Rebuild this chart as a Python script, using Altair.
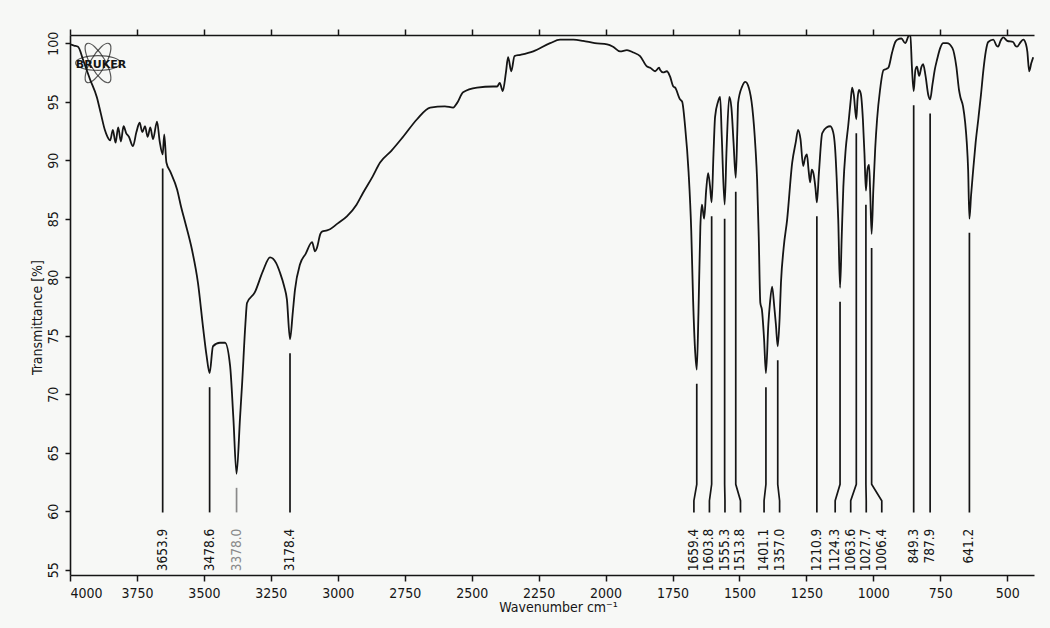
import altair as alt
import numpy as np
import pandas as pd

# IR spectrum trace: wavenumber (cm^-1) and transmittance (%)
wavenumber = [
    4000, 3985, 3970, 3950, 3925, 3900, 3885, 3870, 3860, 3850, 3840, 3830, 3820,
    3810, 3800, 3790, 3780, 3765, 3752, 3740, 3730, 3720, 3710, 3700, 3690, 3675,
    3665, 3653.9, 3648, 3640, 3625, 3600, 3585, 3570, 3544, 3522, 3503, 3490,
    3478.6, 3466, 3440, 3421, 3402, 3390, 3378.0, 3365, 3357, 3345, 3339, 3310,
    3280, 3253, 3230, 3216, 3200, 3190, 3178.4, 3168, 3160, 3141, 3120, 3096,
    3085, 3078, 3065, 3059, 3040, 3029, 3000, 2966, 2930, 2906, 2870, 2842, 2800,
    2756, 2704, 2655, 2600, 2569, 2554, 2532, 2480, 2420, 2405, 2395, 2384, 2372,
    2364, 2352, 2340, 2319, 2270, 2207, 2170, 2120, 2084, 2040, 1994, 1972, 1946,
    1920, 1896, 1871, 1845, 1833, 1815, 1800, 1796, 1785, 1771, 1760, 1747, 1740,
    1722, 1714, 1703, 1690, 1680, 1673, 1665, 1659.4, 1653, 1646, 1640, 1632,
    1624, 1617, 1610, 1603.8, 1597, 1591, 1580, 1572, 1566, 1555.3, 1548, 1538,
    1530, 1522, 1513.8, 1508, 1505, 1490, 1478, 1465, 1452, 1440, 1434, 1428,
    1422, 1416, 1408, 1401.1, 1392, 1386, 1378, 1370, 1364, 1357.0, 1350, 1345,
    1335, 1322, 1303, 1290, 1281, 1272, 1262, 1255, 1248, 1242, 1236, 1230, 1224,
    1216, 1210.9, 1203, 1191, 1175, 1161, 1150, 1143, 1137, 1131, 1124.3, 1118,
    1112, 1103, 1094, 1085, 1079, 1073, 1063.6, 1059, 1054, 1047, 1039, 1033,
    1027.7, 1022, 1016, 1012, 1006.4, 1000, 993, 986, 975, 962, 952, 944, 930,
    918, 911, 895, 881, 869, 862, 856, 849.3, 843, 837, 829, 820, 814, 805, 795,
    787.9, 779, 770, 762, 750, 739, 725, 705, 690, 680, 675, 665, 657, 651, 646,
    641.2, 635, 627, 618, 608, 598, 589, 580, 571, 552, 540, 534, 525, 515, 500,
    478, 470, 463, 450, 440, 430, 425, 418, 410, 403,
]
transmittance = [
    99.9, 99.8, 99.7, 98.5, 96.9, 95.4, 94.0, 92.6, 92.0, 91.7, 92.6, 91.5, 92.8,
    91.6, 92.9, 92.3, 92.0, 91.2, 92.4, 93.2, 92.4, 92.9, 92.0, 92.8, 91.8, 93.3,
    91.6, 90.5, 92.2, 89.8, 89.0, 87.5, 86.0, 84.7, 82.3, 79.5, 75.7, 73.3,
    71.8, 74.1, 74.4, 74.4, 72.4, 68.0, 63.2, 68.0, 71.0, 76.0, 77.8, 78.7,
    80.5, 81.7, 81.2, 80.4, 79.2, 78.1, 74.7, 77.0, 78.9, 81.1, 82.0, 83.0,
    82.2, 82.5, 83.7, 83.9, 84.0, 84.1, 84.6, 85.2, 86.2, 87.2, 88.6, 89.8, 90.8,
    92.0, 93.5, 94.5, 94.6, 94.5, 94.9, 95.8, 96.2, 96.3, 96.3, 96.6, 95.9, 97.5,
    98.8, 97.6, 98.9, 99.0, 99.3, 100.0, 100.3, 100.3, 100.2, 100.0, 99.9, 99.7, 99.3,
    99.4, 99.2, 98.9, 98.0, 97.9, 97.6, 97.9, 97.7, 97.5, 97.6, 97.2, 96.3, 96.2,
    95.2, 95.0, 92.9, 89.0, 84.0, 78.0, 73.5, 72.1, 77.0, 84.3, 86.2, 85.0,
    87.5, 88.9, 87.8, 86.4, 90.5, 93.7, 95.0, 95.4, 92.0, 86.2, 91.0, 95.4,
    94.5, 91.5, 88.5, 92.5, 94.9, 96.3, 96.7, 96.2, 94.5, 91.0, 88.3, 83.5,
    77.8, 77.2, 74.7, 71.8, 76.0, 77.8, 79.2, 77.5, 76.0, 74.1, 76.5, 79.5,
    82.5, 84.9, 89.8, 91.5, 92.6, 91.8, 89.5, 90.2, 90.5, 89.2, 88.1, 89.2, 88.9,
    87.6, 86.4, 89.0, 92.3, 92.8, 92.9, 92.4, 91.1, 88.5, 84.9, 79.1, 83.5,
    87.7, 91.0, 92.9, 95.0, 96.2, 95.6, 93.5, 95.2, 96.0, 95.7, 93.5, 90.5,
    87.4, 89.2, 89.6, 87.5, 83.7, 87.5, 91.0, 93.5, 96.0, 97.7, 97.8, 97.9, 99.2,
    100.1, 100.3, 100.4, 100.0, 100.6, 100.8, 98.0, 95.9, 97.7, 98.0, 97.2, 98.0, 98.2, 97.2, 95.6,
    95.2, 96.5, 97.8, 98.6, 99.6, 100.0, 100.0, 99.6, 98.0, 96.0, 95.4, 94.6, 93.2, 91.5, 89.2,
    85.0, 87.0, 89.2, 91.5, 93.5, 95.6, 97.7, 99.3, 100.1, 100.3, 99.8, 99.7, 100.2, 100.5, 100.2,
    100.1, 99.8, 99.7, 100.1, 100.3, 99.9, 99.3, 97.6, 98.3, 98.8,
]

# Annotated absorption bands (cm^-1)
peak_wavenumbers = [
    3653.9, 3478.6, 3378.0, 3178.4, 1659.4, 1603.8, 1555.3, 1513.8, 1401.1,
    1357.0, 1210.9, 1124.3, 1063.6, 1027.7, 1006.4, 849.3, 787.9, 641.2,
]

x_ticks = [4000, 3750, 3500, 3250, 3000, 2750, 2500, 2250, 2000, 1750, 1500, 1250, 1000, 750, 500]
y_ticks = [55, 60, 65, 70, 75, 80, 85, 90, 95, 100]

INK = "#151515"
FONT = "DejaVu Sans Condensed, Roboto, sans-serif"
PAPER = "#f7f8f6"
W, H = 964, 540

spec_df = pd.DataFrame({"wn": wavenumber, "T": transmittance})


def spread_labels(positions, gap):
    """Place labels (ordered high -> low wavenumber) at least `gap` apart,
    centring each crowded group on the mean of its bands."""
    groups = [[p] for p in positions]
    while True:
        placed = []
        for g in groups:
            centre = sum(g) / len(g)
            start = centre + gap * (len(g) - 1) / 2
            placed.append([start - gap * i for i in range(len(g))])
        for i in range(len(groups) - 1):
            if placed[i][-1] - placed[i + 1][0] < gap:
                groups[i] = groups[i] + groups[i + 1]
                del groups[i + 1]
                break
        else:
            return [p for ps in placed for p in ps]


label_pos = spread_labels(peak_wavenumbers, 58)

# Leader lines: from just under each band down, kinking over to its label
asc_wn = np.array(wavenumber[::-1], dtype=float)
asc_t = np.array(transmittance[::-1], dtype=float)
rows = []
for wn, lp in zip(peak_wavenumbers, label_pos):
    top = float(np.interp(wn, asc_wn, asc_t)) - 1.2
    kink = min(62.3, top)
    pts = [(wn, top), (wn, kink), (lp, 60.9), (lp, 59.9)]
    for step, (px, py) in enumerate(pts):
        rows.append({"peak": f"{wn:.1f}", "step": step, "wn": px, "T": py})
leader_df = pd.DataFrame(rows)
label_df = pd.DataFrame({
    "wn": label_pos,
    "T": [58.5] * len(label_pos),
    "text": [f"{w:.1f}" for w in peak_wavenumbers],
    "band": peak_wavenumbers,
})

x_scale = alt.Scale(domain=[4000, 400], nice=False, zero=False)
y_scale = alt.Scale(domain=[54.55, 100.7], nice=False, zero=False)

bottom_axis = alt.Axis(
    values=x_ticks, format="d", title="Wavenumber cm⁻¹", grid=False,
    domainColor=INK, domainWidth=1.6, tickColor=INK, tickWidth=1.5, tickSize=6,
    labelFont=FONT, labelFontSize=14, labelColor=INK, labelPadding=5,
    titleFont=FONT, titleFontSize=14, titleFontWeight="normal", titleColor=INK,
    titleX=488, titleY=32, titleAlign="center", titleBaseline="middle",
)
top_axis = alt.Axis(
    orient="top", values=x_ticks, labels=False, title=None, grid=False,
    domainColor=INK, domainWidth=1.6, tickColor=INK, tickWidth=1.5, tickSize=6,
)
left_axis = alt.Axis(
    values=y_ticks, title="Transmittance [%]", grid=False,
    domainColor=INK, domainWidth=1.6, tickColor=INK, tickWidth=1.5, tickSize=5,
    labelFont=FONT, labelFontSize=14, labelColor=INK, labelAngle=270,
    labelAlign="center", labelBaseline="bottom", labelPadding=5,
    titleFont=FONT, titleFontSize=14, titleFontWeight="normal", titleColor=INK,
    titleAngle=270, titleX=-33, titleY=282, titleAlign="center", titleBaseline="middle",
)

spectrum = alt.Chart(spec_df).mark_line(
    color=INK, strokeWidth=1.8, interpolate="monotone", clip=True
).encode(
    x=alt.X("wn:Q", scale=x_scale, axis=bottom_axis),
    y=alt.Y("T:Q", scale=y_scale, axis=left_axis),
    order=alt.Order("wn:Q", sort="descending"),
)

frame_top = alt.Chart(spec_df).mark_line(opacity=0).encode(
    x=alt.X("wn:Q", scale=x_scale, axis=top_axis),
    y=alt.Y("T:Q", scale=y_scale, axis=None),
)

leaders = alt.Chart(leader_df).mark_line(strokeWidth=1.7).encode(
    x=alt.X("wn:Q", scale=x_scale, axis=None),
    y=alt.Y("T:Q", scale=y_scale, axis=None),
    detail="peak:N",
    order="step:Q",
    color=alt.condition(alt.datum.peak == "3378.0", alt.value("#8a8a8a"), alt.value(INK)),
)

labels = alt.Chart(label_df).mark_text(
    angle=270, align="right", baseline="middle", font=FONT, fontSize=13.5
).encode(
    x=alt.X("wn:Q", scale=x_scale, axis=None),
    y=alt.Y("T:Q", scale=y_scale, axis=None),
    text="text:N",
    color=alt.condition(alt.datum.band == 3378.0, alt.value("#8a8a8a"), alt.value(INK)),
)

# Instrument logo in the upper-left corner
ELLIPSE = "M -1 0 A 1 0.33 0 1 1 1 0 A 1 0.33 0 1 1 -1 0 Z"
logo_df = pd.DataFrame({"tilt": [0, 60, 120]})
logo_rings = alt.Chart(logo_df).mark_point(
    shape=ELLIPSE, filled=False, stroke=INK, strokeWidth=1.2, size=2000
).encode(
    x=alt.value(28), y=alt.value(28), angle=alt.Angle("tilt:Q", scale=None)
)
logo_text = alt.Chart(pd.DataFrame({"name": ["BRUKER"]})).mark_text(
    font="DejaVu Sans", fontWeight="bold", fontSize=11, color=INK
).encode(x=alt.value(31), y=alt.value(30), text="name:N")

chart = alt.layer(
    frame_top, spectrum, leaders, labels, logo_rings, logo_text
).resolve_axis(x="independent", y="independent").properties(
    width=W, height=H,
    autosize=alt.AutoSizeParams(type="none"),
    padding={"left": 70, "top": 35, "right": 16, "bottom": 53},
    background=PAPER,
).configure_view(stroke=None)

chart.save("out.html", embed_options={"renderer": "svg", "actions": False})
